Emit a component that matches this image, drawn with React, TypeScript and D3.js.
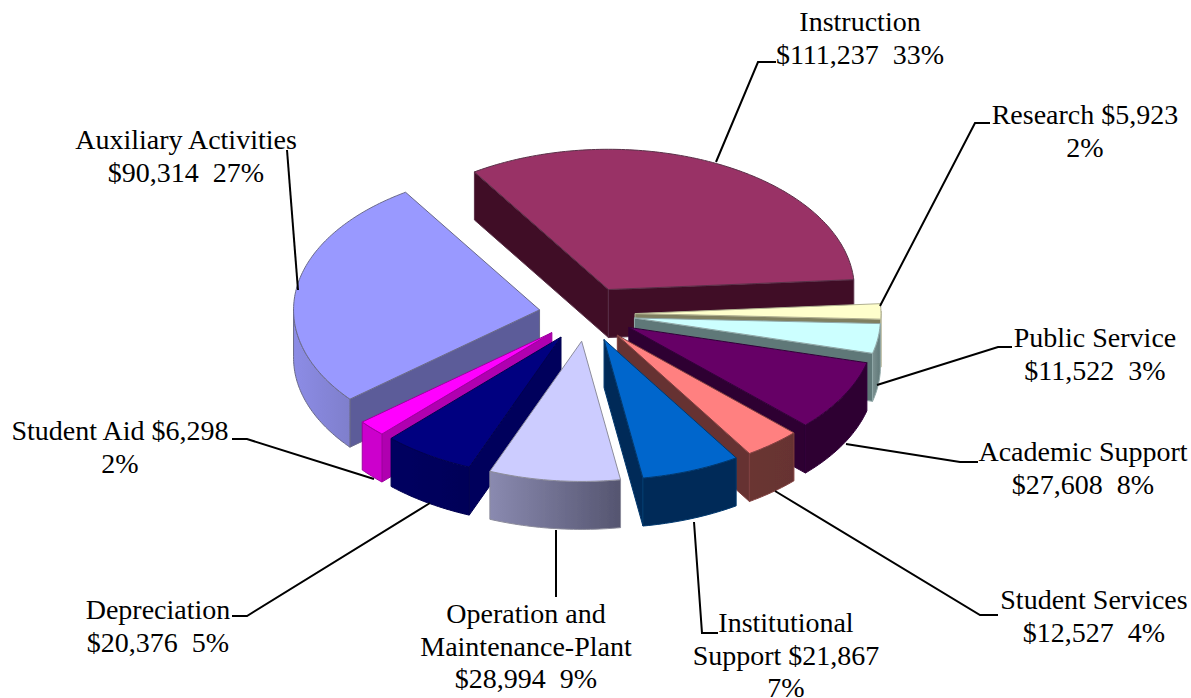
import React from "react";
import * as d3 from "d3";

const categories = ["Instruction","Research","Public Service","Academic Support","Student Services","Institutional Support","Operation and Maintenance-Plant","Depreciation","Student Aid","Auxiliary Activities"];
const values = [111237,5923,11522,27608,12527,21867,28994,20376,6298,90314];
const topColors = ["#993366","#FFFFCC","#CCFFFF","#660066","#FF8080","#0066CC","#CCCCFF","#000080","#FF00FF","#9999FF"];
const wallColors = ["#401028","#7F7F60","#5F7878","#2E0030","#663333","#002B58","#66667F","#00005C","#B000B0","#5C5C99"];
const outerFrom = ["#3F1028","#8A8A68","#7A9090","#2E0030","#6A3530","#002B58","#8A8AB0","#000060","#CC00CC","#8C8CE6"];
const outerTo = ["#3F1028","#8A8A68","#607878","#2E0030","#663330","#002B58","#555570","#000058","#CC00CC","#7F7FCC"];
const edgeColors = ["#5a3048","#b0b090","#90a8a8","#33003a","#804040","#00386e","#8c8c9c","#000050","#a000a0","#6a6a8a"];
const labelLines = [
  ["Instruction","$111,237  33%"],
  ["Research $5,923","2%"],
  ["Public Service","$11,522  3%"],
  ["Academic Support","$27,608  8%"],
  ["Student Services","$12,527  4%"],
  ["Institutional","Support $21,867","7%"],
  ["Operation and","Maintenance-Plant","$28,994  9%"],
  ["Depreciation","$20,376  5%"],
  ["Student Aid $6,298","2%"],
  ["Auxiliary Activities","$90,314  27%"],
];
const labelX = [860,1085,1095,1083,1094,786,526,158,120,186];
const labelY = [31,124,347,461,609,632,623,619,440,149];
const leaders: [number,number][][] = [
  [[776,62],[758,62],[716,162]],
  [[990,123],[975,123],[880,306]],
  [[1012,347],[998,347],[877,385]],
  [[978,462],[960,462],[846,444]],
  [[998,615],[980,615],[775,491]],
  [[718,633],[702,633],[694,522]],
  [[556,597],[556,530]],
  [[232,616],[247,616],[430,503]],
  [[232,439],[247,439],[374,479]],
  [[287,150],[298,290]],
];
const paintOrder = [0,9,1,2,3,8,4,7,5,6];

const CX = 587, CY = 314, R = 246, K = 0.57, EXPLODE = 48, DEPTH = 48, LINE = 32.5;

const pieGen = d3.pie<number>().sort(null).startAngle(-33 * Math.PI / 180).endAngle(327 * Math.PI / 180);
const arcs = pieGen(values);
const line = d3.line<[number,number]>();

function Slice({ i }: { i: number }) {
  const a = arcs[i];
  const mid = (a.startAngle + a.endAngle) / 2;
  const ax = CX + EXPLODE * Math.sin(mid);
  const ay = CY - EXPLODE * K * Math.cos(mid);
  const pt = (t: number, r = R, z = 0): [number,number] => [ax + r * Math.sin(t), ay - r * K * Math.cos(t) + z];
  const step = Math.PI / 180;
  const sweep = d3.range(a.startAngle, a.endAngle, step).concat(a.endAngle);
  const top = line([[ax, ay], ...sweep.map(t => pt(t))]) + "Z";
  const wall = (t: number) => line([[ax, ay], pt(t), pt(t, R, DEPTH), [ax, ay + DEPTH]]) + "Z";
  const startVisible = Math.sin(a.startAngle) < 0;
  const endVisible = Math.sin(a.endAngle) > 0;
  const front = sweep.filter(t => Math.cos(t) < 0.02);
  const outer = front.length > 1
    ? line([...front.map(t => pt(t)), ...front.slice().reverse().map(t => pt(t, R, DEPTH))]) + "Z"
    : null;
  const st = { stroke: edgeColors[i], strokeWidth: 1, strokeLinejoin: "round" as const };
  return (
    <g>
      {startVisible && <path d={wall(a.startAngle)} fill={wallColors[i]} {...st} />}
      {endVisible && <path d={wall(a.endAngle)} fill={wallColors[i]} {...st} />}
      {outer && <path d={outer} fill={`url(#outer${i})`} {...st} />}
      <path d={top} fill={topColors[i]} {...st} />
    </g>
  );
}

export default function App() {
  return (
    <svg width={1191} height={698} style={{ position: "absolute", left: 0, top: 0, background: "#fff" }}>
      <defs>
        {categories.map((c, i) => (
          <linearGradient key={c} id={`outer${i}`} x1="0" x2="1" y1="0" y2="0">
            <stop offset="0" stopColor={outerFrom[i]} />
            <stop offset="1" stopColor={outerTo[i]} />
          </linearGradient>
        ))}
        <filter id="soft" x="-5%" y="-5%" width="110%" height="110%">
          <feGaussianBlur stdDeviation="0.5" />
        </filter>
      </defs>
      <g filter="url(#soft)">
        {paintOrder.map(i => <Slice key={i} i={i} />)}
      </g>
      <g fill="none" stroke="#000" strokeWidth={2}>
        {leaders.map((l, i) => <path key={i} d={line(l) as string} />)}
      </g>
      <g fontFamily="'Liberation Serif', serif" fontSize={28} fill="#000" textAnchor="middle">
        {labelLines.map((lines, i) => lines.map((t, j) => (
          <text key={`${i}-${j}`} x={labelX[i]} y={labelY[i] + j * LINE} xmlSpace="preserve" style={{ whiteSpace: "pre" }}>{t}</text>
        )))}
      </g>
    </svg>
  );
}
